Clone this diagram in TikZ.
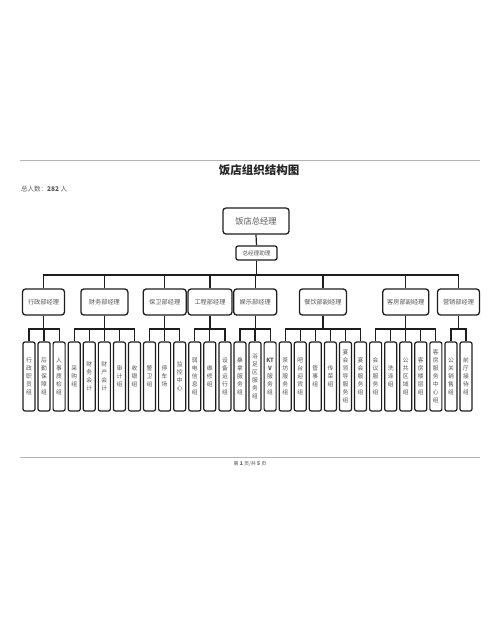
\documentclass[tikz,border=0pt]{standalone}
\usepackage{fontspec}
\setmainfont{Noto Sans CJK SC}
\definecolor{boxc}{HTML}{1E1E1E}
\definecolor{txtc}{HTML}{555555}
\definecolor{rulec}{HTML}{B4B4B4}
\begin{document}
\begin{tikzpicture}[x=1pt,y=-1pt,
  box/.style={draw=boxc, line width=1.3pt, rounded corners=3pt, inner sep=0pt, minimum height=26pt, text=txtc, font=\fontsize{6.2}{7}\selectfont},
  leaf/.style={draw=boxc, line width=1.2pt, rounded corners=2pt, inner sep=0pt, minimum width=12pt, minimum height=69pt, text=txtc, align=center, font=\fontsize{5.8}{8}\selectfont},
  conn/.style={draw=boxc, line width=1.2pt},
  rule/.style={draw=rulec, line width=0.8pt}]
\useasboundingbox[fill=white] (0,0) rectangle (500,625);
% page rules and texts
\draw[rule] (20,160.7) -- (480,160.7);
\draw[rule] (20,457.3) -- (480,457.3);
\node[font=\fontsize{11.5}{12}\selectfont\bfseries, text=black!85] (title) at (259,170.5) {饭店组织结构图};
\node[anchor=west, inner sep=0pt, font=\fontsize{6.5}{7}\selectfont, text=txtc] (count) at (21,189) {总人数：\textbf{282} 人};
\node[inner sep=0pt, font=\fontsize{5}{6}\selectfont, text=txtc] (footer) at (250,464) {第 \textbf{1} 页/共 \textbf{5} 页};
% top boxes
\node[box, minimum width=66pt, font=\fontsize{8.3}{9}\selectfont] (gm) at (256,221) {饭店总经理};
\node[box, minimum width=41pt, minimum height=14pt, rounded corners=2pt, font=\fontsize{5.6}{6}\selectfont] (asst) at (256.5,253) {总经理助理};
\draw[conn] (gm.south) -- (asst.north);
\coordinate (topbus) at (0,275);
\coordinate (bus) at (0,329);
% managers
\foreach \n/\x/\w/\t in {mA/43.5/42/行政部经理, mB/104.4/47/财务部经理, mC/164.7/43/保卫部经理, mD/210/44/工程部经理, mE/255.2/43/娱乐部经理, mF/322.9/47/餐饮部副经理, mG/405.8/46/客房部副经理, mH/458.5/42/营销部经理}
  \node[box, minimum width=\w pt] (\n) at (\x,302) {\t};
% leaves
\foreach \k/\t in {0/{行\\政\\职\\员\\组}, 1/{后\\勤\\保\\障\\组}, 2/{人\\事\\质\\检\\组}, 3/{采\\购\\组}, 4/{财\\务\\会\\计}, 5/{财\\产\\会\\计}, 6/{审\\计\\组}, 7/{收\\银\\组}, 8/{警\\卫\\组}, 9/{停\\车\\场}, 10/{监\\控\\中\\心}, 11/{弱\\电\\信\\息\\组}, 12/{维\\修\\组}, 13/{设\\备\\运\\行\\组}, 14/{桑\\拿\\服\\务\\组}, 15/{浴\\足\\区\\服\\务\\组}, 16/{\textbf{KT}\\\textbf{V}\\服\\务\\组}, 17/{茶\\坊\\服\\务\\组}, 18/{吧\\台\\迎\\宾\\组}, 19/{管\\事\\组}, 20/{传\\菜\\组}, 21/{宴\\会\\领\\导\\服\\务\\组}, 22/{宴\\会\\服\\务\\组}, 23/{会\\议\\服\\务\\组}, 24/{洗\\涤\\组}, 25/{公\\共\\区\\域\\组}, 26/{客\\房\\楼\\层\\组}, 27/{客\\房\\服\\务\\中\\心\\组}, 28/{公\\关\\销\\售\\组}, 29/{前\\厅\\接\\待\\组}}{
  \pgfmathsetmacro\xx{29+15.07*\k}
  \node[leaf] (l\k) at (\xx,376.5) {\t};
}
% connectors
\foreach \m in {mA,mB,mC,mD,mE,mF,mG,mH}
  \draw[conn] (asst.south) -- (asst.south |- topbus) -| (\m.north);
\foreach \m/\a/\b in {mA/0/2, mB/3/7, mC/8/10, mD/11/13, mE/14/16, mF/17/22, mG/23/27, mH/28/29}{
  \foreach \k in {\a,...,\b}
    \draw[conn] (\m.south) -- (\m.south |- bus) -| (l\k.north);
}
\end{tikzpicture}
\end{document}
